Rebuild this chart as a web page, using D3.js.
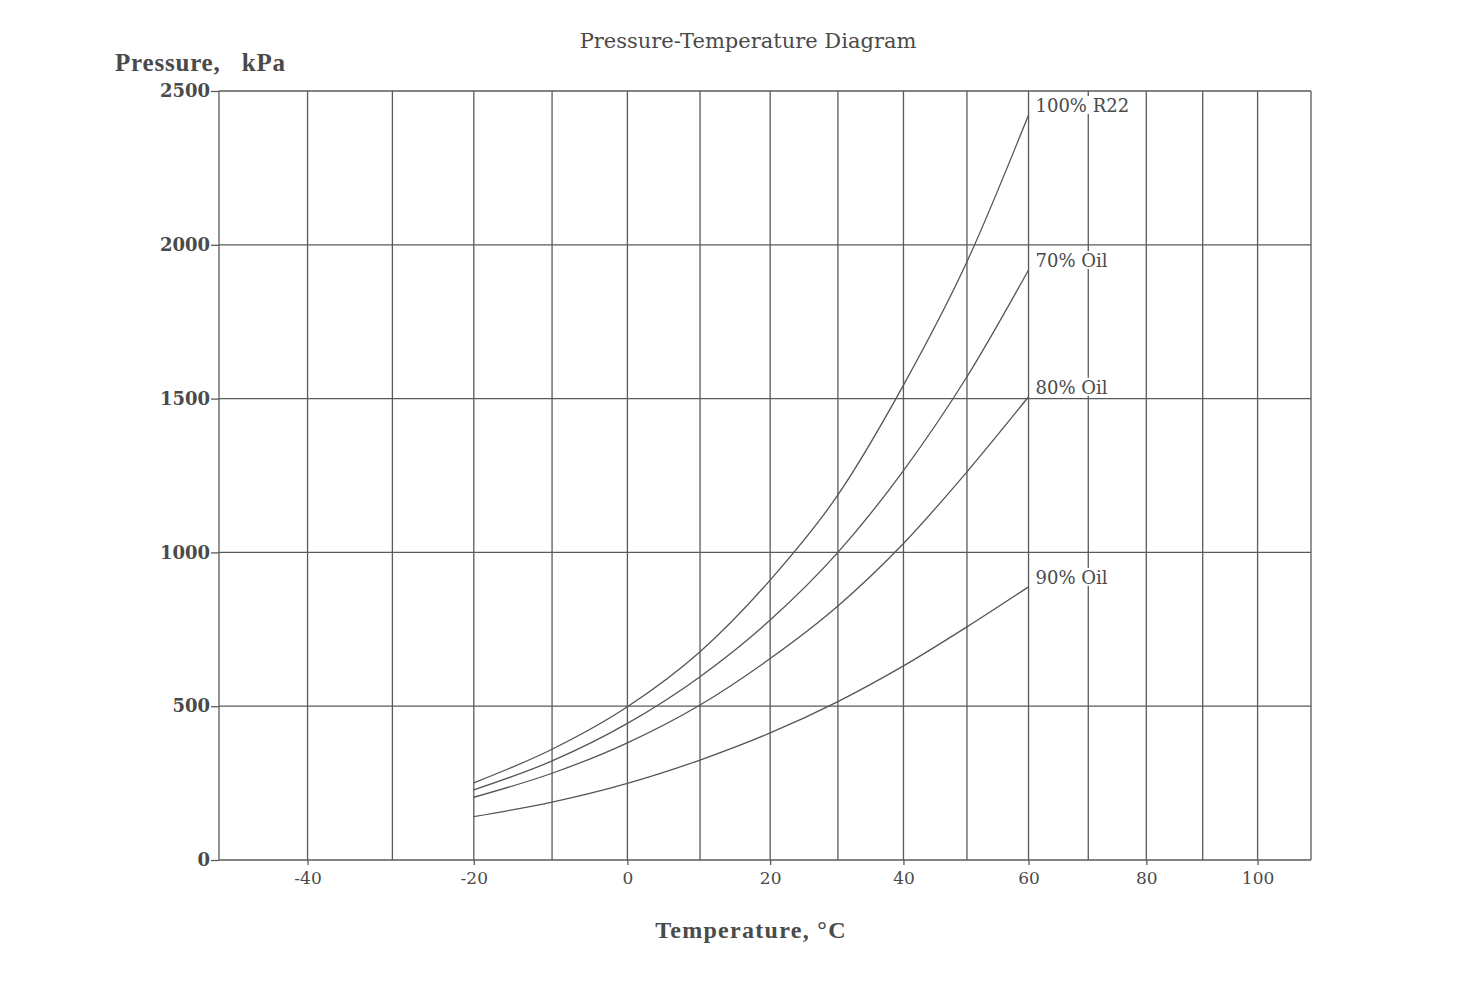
<!DOCTYPE html>
<html><head><meta charset="utf-8">
<script src="https://cdn.jsdelivr.net/npm/d3@7"></script>
<style>
html,body{margin:0;padding:0;background:#fff;}
svg text{fill:#4a4a4a;}
</style></head>
<body>
<svg id="chart" width="1476" height="1008"></svg>
<script>
// ---- data ----
const temperatures = [-20, -10, 0, 10, 20, 30, 40, 50, 60];
const seriesNames = ["100% R22", "70% Oil", "80% Oil", "90% Oil"];
const r22 =   [251, 360, 498, 677, 910, 1187, 1544, 1945, 2422];
const oil70 = [228, 322, 444, 596, 780, 1000, 1266, 1571, 1918];
const oil80 = [204, 282, 381, 504, 655, 826, 1029, 1262, 1506];
const oil90 = [141, 188, 249, 325, 413, 515, 631, 758, 888];
const seriesValues = [r22, oil70, oil80, oil90];
const xGrid = [-50, -40, -30, -20, -10, 0, 10, 20, 30, 40, 50, 60, 70, 80, 90, 100, 110];
const xTickLabels = [-40, -20, 0, 20, 40, 60, 80, 100];
const yTicks = [0, 500, 1000, 1500, 2000, 2500];

const svg = d3.select("#chart");
const K = 273.15;
const xs = d3.scaleLog().domain([-50 + K, 110 + K]).range([219, 1311]);
const x = t => xs(t + K);
const y = d3.scaleLinear().domain([0, 2500]).range([860, 91]);
const gridColor = "#5a5a5a";
const SERIF_WIDE = "'DejaVu Serif', serif";
const SERIF = "'Liberation Serif', serif";

// grid verticals
svg.append("g").selectAll("line").data(xGrid).join("line")
  .attr("x1", d => x(d)).attr("x2", d => x(d))
  .attr("y1", y(0)).attr("y2", y(2500))
  .attr("stroke", gridColor).attr("stroke-width", 1.3);
// grid horizontals
svg.append("g").selectAll("line").data(yTicks).join("line")
  .attr("x1", x(-50)).attr("x2", x(110))
  .attr("y1", d => y(d)).attr("y2", d => y(d))
  .attr("stroke", gridColor).attr("stroke-width", 1.3);

// y axis ticks + labels
const yAxis = d3.axisLeft(y).tickValues(yTicks).tickSize(8).tickPadding(1).tickFormat(d => String(d));
const gy = svg.append("g").attr("transform", `translate(${x(-50)},0)`).call(yAxis);
gy.select(".domain").remove();
gy.selectAll(".tick line").attr("stroke", gridColor).attr("stroke-width", 1.3);
gy.selectAll(".tick text").attr("font-size", 18).attr("font-weight", "bold")
  .style("font-family", SERIF_WIDE).style("fill", "#4a4a4a");

// x axis ticks + labels
const xAxis = d3.axisBottom(xs).tickValues(xTickLabels.map(d => d + K)).tickSize(5).tickPadding(7)
  .tickFormat(d => String(Math.round(d - K)));
const gx = svg.append("g").attr("transform", `translate(0,${y(0)})`).call(xAxis);
gx.select(".domain").remove();
gx.selectAll(".tick line").attr("stroke", gridColor).attr("stroke-width", 1.3);
gx.selectAll(".tick text").attr("font-size", 17)
  .style("font-family", SERIF_WIDE).style("fill", "#4a4a4a");

// curves
const line = d3.line().x((d, i) => x(temperatures[i])).y(d => y(d)).curve(d3.curveMonotoneX);
svg.append("g").selectAll("path").data(seriesValues).join("path")
  .attr("d", d => line(d)).attr("fill", "none")
  .attr("stroke", "#555").attr("stroke-width", 1.3);

// series labels with white background (interrupting grid)
const lg = svg.append("g").selectAll("g").data(seriesValues).join("g");
lg.append("text")
  .attr("x", x(60) + 7).attr("y", d => y(d[d.length - 1]) - 3)
  .attr("font-size", 18).style("font-family", SERIF_WIDE)
  .text((d, i) => seriesNames[i]);
lg.each(function (d) {
  const t = d3.select(this).select("text");
  const b = t.node().getBBox();
  const base = y(d[d.length - 1]) - 3;
  d3.select(this).insert("rect", "text")
    .attr("x", b.x - 1).attr("y", base - 16).attr("width", b.width + 2).attr("height", 18)
    .attr("fill", "#fff");
});

// titles
svg.append("text").attr("x", 748).attr("y", 48).attr("text-anchor", "middle")
  .attr("font-size", 21).style("font-family", SERIF_WIDE).text("Pressure-Temperature Diagram");
svg.append("text").attr("x", 115).attr("y", 71).attr("font-size", 25).attr("font-weight", "bold")
  .style("font-family", SERIF).attr("letter-spacing", 0.8)
  .style("white-space", "pre").text("Pressure,   kPa");
svg.append("text").attr("x", 751).attr("y", 938).attr("text-anchor", "middle")
  .attr("font-size", 24).attr("font-weight", "bold").style("font-family", SERIF)
  .attr("letter-spacing", 1.3).text("Temperature, °C");
</script>
</body></html>
